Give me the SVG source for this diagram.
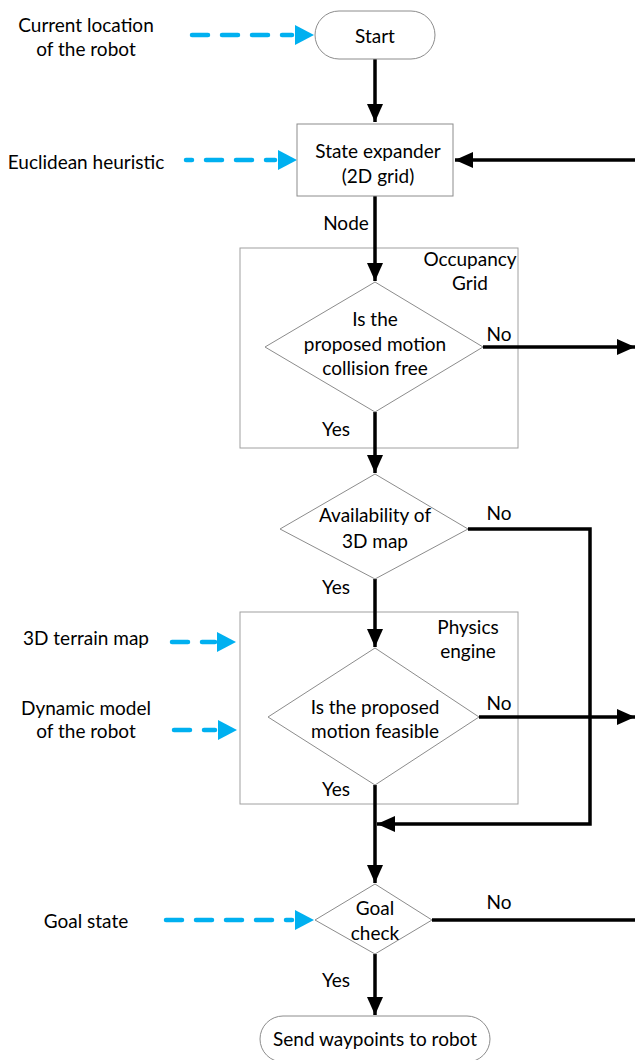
<svg xmlns="http://www.w3.org/2000/svg" width="635" height="1060" viewBox="0 0 635 1060">
<style>
.t{font-family:Lato,"Liberation Sans",sans-serif;font-size:19px;fill:#000;text-anchor:middle;dominant-baseline:central}
.n{fill:#fff;stroke:#8c8c8c;stroke-width:1}
.b{fill:none;stroke:#a0a0a0;stroke-width:1}
.k{fill:none;stroke:#000;stroke-width:3.5}
.d{fill:none;stroke:#00b0f0;stroke-width:4.5;stroke-dasharray:16 14;stroke-linecap:round}
</style>
<defs>
<marker id="ak" markerUnits="userSpaceOnUse" markerWidth="20" markerHeight="16" refX="18" refY="8" orient="auto"><path d="M0,0 L18,8 L0,16 z" fill="#000"/></marker>
<marker id="ab" markerUnits="userSpaceOnUse" markerWidth="20" markerHeight="20" refX="19" refY="10" orient="auto"><path d="M0,0 L19,10 L0,20 z" fill="#00b0f0"/></marker>
</defs>
<rect width="635" height="1060" fill="#fff"/>
<g id="occupancy-grid"><rect class="b" x="240" y="248" width="278" height="200"/><text class="t" x="470" y="258">Occupancy</text><text class="t" x="470" y="282">Grid</text></g>
<g id="physics-engine"><rect class="b" x="240" y="612" width="278" height="192"/><text class="t" x="468" y="626">Physics</text><text class="t" x="468" y="650">engine</text></g>
<g id="connectors">
<path class="k" d="M375,58 V122" marker-end="url(#ak)"/>
<path class="k" d="M635,160 H455" marker-end="url(#ak)"/>
<path class="k" d="M375,196 V281" marker-end="url(#ak)"/>
<path class="k" d="M483,347 H635" marker-end="url(#ak)"/>
<path class="k" d="M375,412 V473" marker-end="url(#ak)"/>
<path class="k" d="M468,529 H590 V824 H377" marker-end="url(#ak)"/>
<path class="k" d="M375,579 V647" marker-end="url(#ak)"/>
<path class="k" d="M479,717 H635" marker-end="url(#ak)"/>
<path class="k" d="M375,785 V883" marker-end="url(#ak)"/>
<path class="k" d="M432,920 H635"/>
<path class="k" d="M375,954 V1015" marker-end="url(#ak)"/>
<path class="d" d="M192,35 H292"/><path d="M294,35 H314" stroke="none" marker-end="url(#ab)"/>
<path class="d" d="M186,160 H275" style="stroke-dashoffset:10"/><path d="M277,160 H297" stroke="none" marker-end="url(#ab)"/>
<path class="d" d="M172,642 H215"/><path d="M216,642 H236" stroke="none" marker-end="url(#ab)"/>
<path class="d" d="M174,730 H215"/><path d="M216,730 H237" stroke="none" marker-end="url(#ab)"/>
<path class="d" d="M166,920 H292"/><path d="M294,920 H314" stroke="none" marker-end="url(#ab)"/>
<text class="t" x="346" y="222">Node</text>
<text class="t" x="499" y="333">No</text>
<text class="t" x="336" y="428">Yes</text>
<text class="t" x="499" y="512">No</text>
<text class="t" x="336" y="586">Yes</text>
<text class="t" x="499" y="702">No</text>
<text class="t" x="336" y="788">Yes</text>
<text class="t" x="499" y="901">No</text>
<text class="t" x="336" y="979">Yes</text>
</g>
<g id="start"><rect class="n" x="315" y="11" width="120" height="48" rx="24"/><text class="t" x="375" y="35">Start</text></g>
<g id="state-expander"><rect class="n" x="297" y="124" width="156" height="72"/><text class="t" x="378" y="150">State expander</text><text class="t" x="378" y="175">(2D grid)</text></g>
<g id="collision-check"><path class="n" d="M375,282 L483,347 L375,412 L265,347 z"/><text class="t" x="375" y="318">Is the</text><text class="t" x="375" y="343">proposed motion</text><text class="t" x="375" y="367">collision free</text></g>
<g id="map-check"><path class="n" d="M375,474 L468,529 L375,579 L280,529 z"/><text class="t" x="375" y="514">Availability of</text><text class="t" x="375" y="540">3D map</text></g>
<g id="feasible-check"><path class="n" d="M375,648 L479,717 L375,785 L268,717 z"/><text class="t" x="375" y="706">Is the proposed</text><text class="t" x="375" y="730">motion feasible</text></g>
<g id="goal-check"><path class="n" d="M375,884 L432,920 L375,954 L315,920 z"/><text class="t" x="375" y="907">Goal</text><text class="t" x="375" y="932">check</text></g>
<g id="send"><rect class="n" x="260" y="1016" width="230" height="46" rx="23"/><text class="t" x="375" y="1038">Send waypoints to robot</text></g>
<g id="input-current"><text class="t" x="86" y="24">Current location</text><text class="t" x="86" y="48">of the robot</text></g>
<g id="input-heuristic"><text class="t" x="86" y="161">Euclidean heuristic</text></g>
<g id="input-terrain"><text class="t" x="86" y="637">3D terrain map</text></g>
<g id="input-dynamic"><text class="t" x="86" y="707">Dynamic model</text><text class="t" x="86" y="730">of the robot</text></g>
<g id="input-goal"><text class="t" x="86" y="920">Goal state</text></g>
</svg>
